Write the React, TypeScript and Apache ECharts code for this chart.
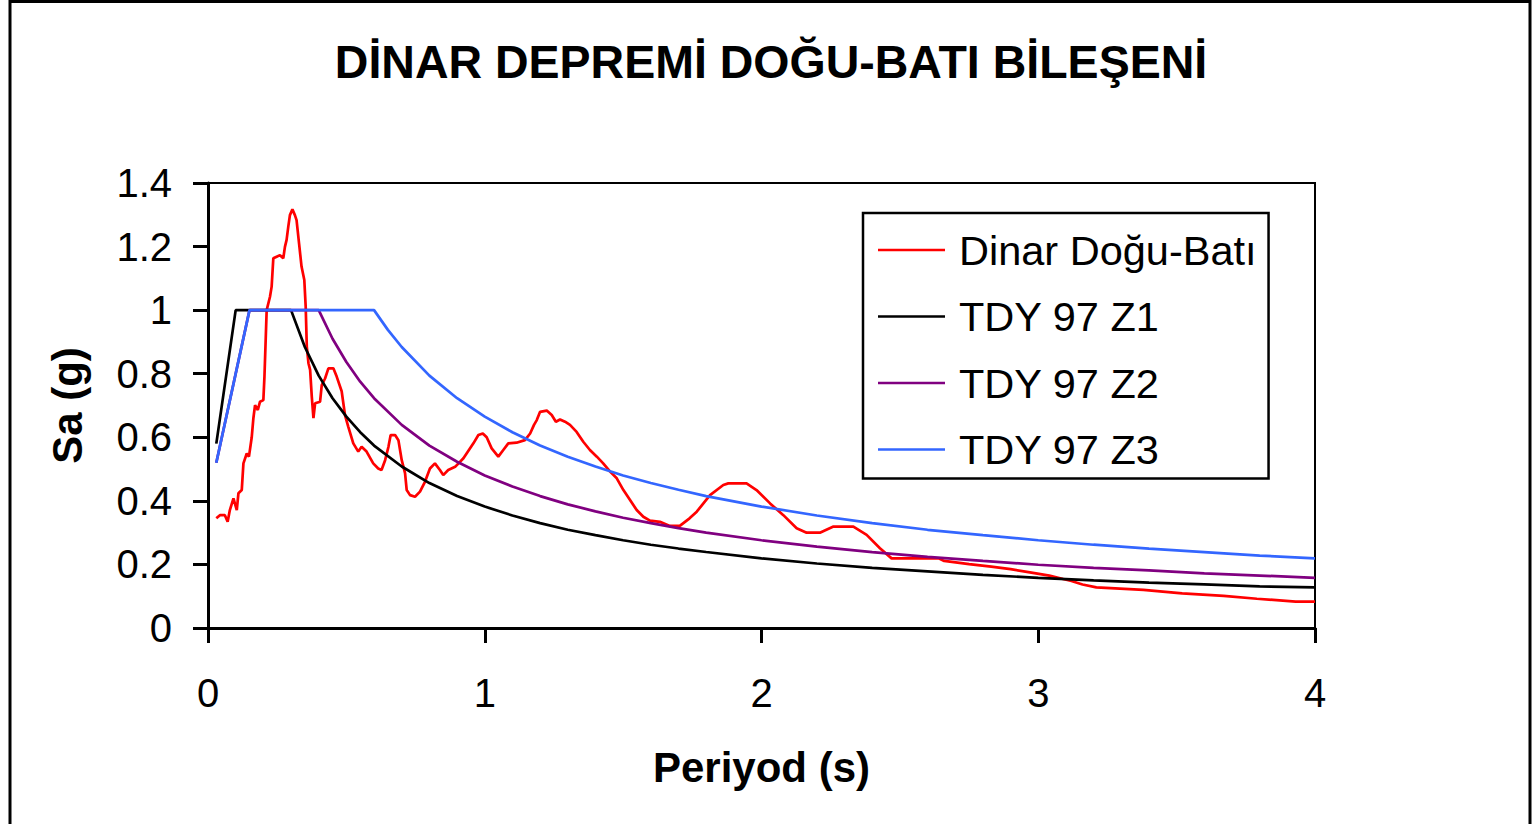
import React, { useEffect, useRef } from "react";
import * as echarts from "echarts";

const titleText = "DİNAR DEPREMİ DOĞU-BATI BİLEŞENİ";
const xAxisName = "Periyod (s)";
const yAxisName = "Sa (g)";
const seriesNames = ["Dinar Doğu-Batı", "TDY 97 Z1", "TDY 97 Z2", "TDY 97 Z3"];

const dinarT = [
  0.03, 0.043, 0.061, 0.071, 0.079, 0.092, 0.104, 0.11, 0.122, 0.128, 0.14, 0.148, 0.158, 0.164, 0.17, 0.18,
  0.188, 0.2, 0.204, 0.212, 0.224, 0.23, 0.236, 0.248, 0.26, 0.272, 0.278, 0.284, 0.29, 0.296, 0.305, 0.314,
  0.32, 0.329, 0.338, 0.348, 0.353, 0.357, 0.363, 0.369, 0.375, 0.381, 0.387, 0.405, 0.411, 0.423, 0.435,
  0.453, 0.465, 0.483, 0.495, 0.507, 0.525, 0.543, 0.555, 0.573, 0.597, 0.615, 0.627, 0.64, 0.652, 0.66,
  0.676, 0.688, 0.7, 0.712, 0.718, 0.73, 0.748, 0.766, 0.784, 0.802, 0.82, 0.838, 0.85, 0.868, 0.893, 0.923,
  0.959, 0.977, 0.993, 1.007, 1.025, 1.049, 1.067, 1.085, 1.115, 1.145, 1.164, 1.178, 1.188, 1.2, 1.224,
  1.242, 1.257, 1.272, 1.29, 1.308, 1.332, 1.356, 1.38, 1.405, 1.428, 1.453, 1.477, 1.501, 1.525, 1.549,
  1.573, 1.597, 1.633, 1.669, 1.706, 1.74, 1.766, 1.814, 1.862, 1.88, 1.946, 1.982, 2.031, 2.079, 2.127,
  2.163, 2.211, 2.26, 2.332, 2.38, 2.428, 2.47, 2.64, 2.66, 2.75, 2.83, 2.9, 2.97, 3.04, 3.09, 3.12, 3.16,
  3.21, 3.38, 3.52, 3.67, 3.79, 3.93, 4.0,
];
const dinarSa = [
  0.345, 0.355, 0.355, 0.334, 0.371, 0.408, 0.371, 0.424, 0.434, 0.518, 0.549, 0.539, 0.6, 0.66, 0.701, 0.686,
  0.712, 0.717, 0.791, 1.0, 1.042, 1.074, 1.163, 1.168, 1.173, 1.163, 1.199, 1.221, 1.262, 1.299, 1.317, 1.299,
  1.283, 1.21, 1.137, 1.095, 1.011, 0.885, 0.833, 0.812, 0.728, 0.66, 0.707, 0.712, 0.764, 0.785, 0.817,
  0.817, 0.791, 0.745, 0.67, 0.633, 0.581, 0.555, 0.57, 0.555, 0.518, 0.502, 0.497, 0.528, 0.57, 0.607,
  0.607, 0.591, 0.528, 0.487, 0.434, 0.418, 0.413, 0.429, 0.46, 0.502, 0.518, 0.497, 0.481, 0.497, 0.507, 0.534,
  0.581, 0.607, 0.612, 0.6, 0.565, 0.539, 0.56, 0.581, 0.583, 0.591, 0.612, 0.639, 0.654, 0.68, 0.684,
  0.67, 0.649, 0.656, 0.649, 0.639, 0.617, 0.586, 0.56, 0.539, 0.518, 0.492, 0.471, 0.434, 0.403, 0.371,
  0.35, 0.338, 0.334, 0.321, 0.322, 0.345, 0.366, 0.418, 0.45, 0.455, 0.455, 0.434, 0.392, 0.355, 0.314,
  0.3, 0.3, 0.319, 0.319, 0.293, 0.251, 0.219, 0.219, 0.211, 0.201, 0.193, 0.185, 0.175, 0.165, 0.154, 0.148, 0.137,
  0.128, 0.12, 0.109, 0.101, 0.092, 0.083, 0.083,
];

const z1T = [0.03, 0.1, 0.3, 0.35, 0.4, 0.45, 0.5, 0.55, 0.6, 0.7, 0.8, 0.9, 1.0, 1.1, 1.2, 1.3, 1.4, 1.5, 1.6, 1.7, 1.8, 2.0, 2.2, 2.4, 2.6, 2.8, 3.0, 3.2, 3.4, 3.6, 3.8, 4.0];
const z1Sa = [0.58, 1, 1, 0.884, 0.794, 0.723, 0.665, 0.616, 0.574, 0.508, 0.456, 0.415, 0.382, 0.354, 0.33, 0.309, 0.292, 0.276, 0.262, 0.25, 0.239, 0.219, 0.203, 0.189, 0.178, 0.167, 0.158, 0.15, 0.143, 0.137, 0.131, 0.128];

const z2T = [0.03, 0.15, 0.4, 0.45, 0.5, 0.55, 0.6, 0.7, 0.8, 0.9, 1.0, 1.1, 1.2, 1.3, 1.4, 1.5, 1.6, 1.7, 1.8, 2.0, 2.2, 2.4, 2.6, 2.8, 3.0, 3.2, 3.4, 3.6, 3.8, 4.0];
const z2Sa = [0.52, 1, 1, 0.91, 0.837, 0.775, 0.723, 0.639, 0.574, 0.523, 0.48, 0.445, 0.415, 0.389, 0.367, 0.347, 0.33, 0.314, 0.3, 0.276, 0.256, 0.239, 0.224, 0.211, 0.199, 0.189, 0.181, 0.172, 0.165, 0.158];

const z3T = [0.03, 0.15, 0.6, 0.65, 0.7, 0.8, 0.9, 1.0, 1.1, 1.2, 1.3, 1.4, 1.5, 1.6, 1.7, 1.8, 2.0, 2.2, 2.4, 2.6, 2.8, 3.0, 3.2, 3.4, 3.6, 3.8, 4.0];
const z3Sa = [0.52, 1, 1, 0.938, 0.884, 0.794, 0.723, 0.665, 0.616, 0.574, 0.539, 0.508, 0.48, 0.456, 0.435, 0.415, 0.382, 0.354, 0.33, 0.309, 0.292, 0.276, 0.262, 0.25, 0.239, 0.228, 0.219];

const colors = ["#FF0000", "#000000", "#800080", "#3366FF"];

const zip = (t: number[], v: number[]) => t.map((x, i) => [x, v[i]]);

export default function App() {
  const ref = useRef<HTMLDivElement>(null);
  useEffect(() => {
    document.body.style.margin = "0";
    const chart = echarts.init(ref.current!, null, { renderer: "svg" });
    const font = "Liberation Sans";
    const datasets = [zip(dinarT, dinarSa), zip(z1T, z1Sa), zip(z2T, z2Sa), zip(z3T, z3Sa)];
    chart.setOption({
      animation: false,
      backgroundColor: "#fff",
      textStyle: { fontFamily: font, color: "#000" },
      title: {
        text: titleText,
        left: 766,
        top: 33,
        textAlign: "center",
        textStyle: { fontFamily: font, fontWeight: "bold", fontSize: 46.5, color: "#000" },
      },
      graphic: [
        {
          type: "rect",
          shape: { x: 10, y: 1.5, width: 1520, height: 900 },
          style: { fill: "none", stroke: "#000", lineWidth: 3 },
          silent: true,
        },
      ],
      grid: {
        left: 208,
        top: 183,
        right: 217,
        bottom: 196,
        show: true,
        borderColor: "#000",
        borderWidth: 2,
        backgroundColor: "transparent",
      },
      legend: {
        orient: "vertical",
        left: 863,
        top: 213,
        padding: [16, 12, 8, 15],
        itemGap: 24.5,
        itemWidth: 67,
        itemHeight: 2.5,
        icon: "rect",
        borderColor: "#000",
        borderWidth: 2.5,
        backgroundColor: "#fff",
        data: seriesNames,
        textStyle: { fontFamily: font, fontSize: 41.5, color: "#000", padding: [0, 0, 0, 9] },
      },
      xAxis: {
        type: "value",
        min: 0,
        max: 4,
        interval: 1,
        name: xAxisName,
        nameLocation: "middle",
        nameGap: 118,
        nameTextStyle: { fontFamily: font, fontWeight: "bold", fontSize: 42, color: "#000" },
        axisLine: { show: true, onZero: false, lineStyle: { color: "#000", width: 3 } },
        axisTick: { show: true, inside: false, length: 15, lineStyle: { color: "#000", width: 3 } },
        axisLabel: { fontFamily: font, fontSize: 40, color: "#000", margin: 45 },
        splitLine: { show: false },
      },
      yAxis: {
        type: "value",
        min: 0,
        max: 1.4,
        interval: 0.2,
        name: yAxisName,
        nameLocation: "middle",
        nameGap: 120,
        nameTextStyle: { fontFamily: font, fontWeight: "bold", fontSize: 42, color: "#000" },
        axisLine: { show: true, lineStyle: { color: "#000", width: 3 } },
        axisTick: { show: true, inside: false, length: 15, lineStyle: { color: "#000", width: 3 } },
        axisLabel: { fontFamily: font, fontSize: 40, color: "#000", margin: 36 },
        splitLine: { show: false },
      },
      series: seriesNames.map((name, i) => ({
        name,
        type: "line",
        data: datasets[i],
        showSymbol: false,
        symbol: "none",
        color: colors[i],
        itemStyle: { color: colors[i] },
        lineStyle: { color: colors[i], width: 2.7 },
        clip: true,
      })),
    });
    return () => chart.dispose();
  }, []);
  return <div ref={ref} style={{ width: 1532, height: 824 }} />;
}
